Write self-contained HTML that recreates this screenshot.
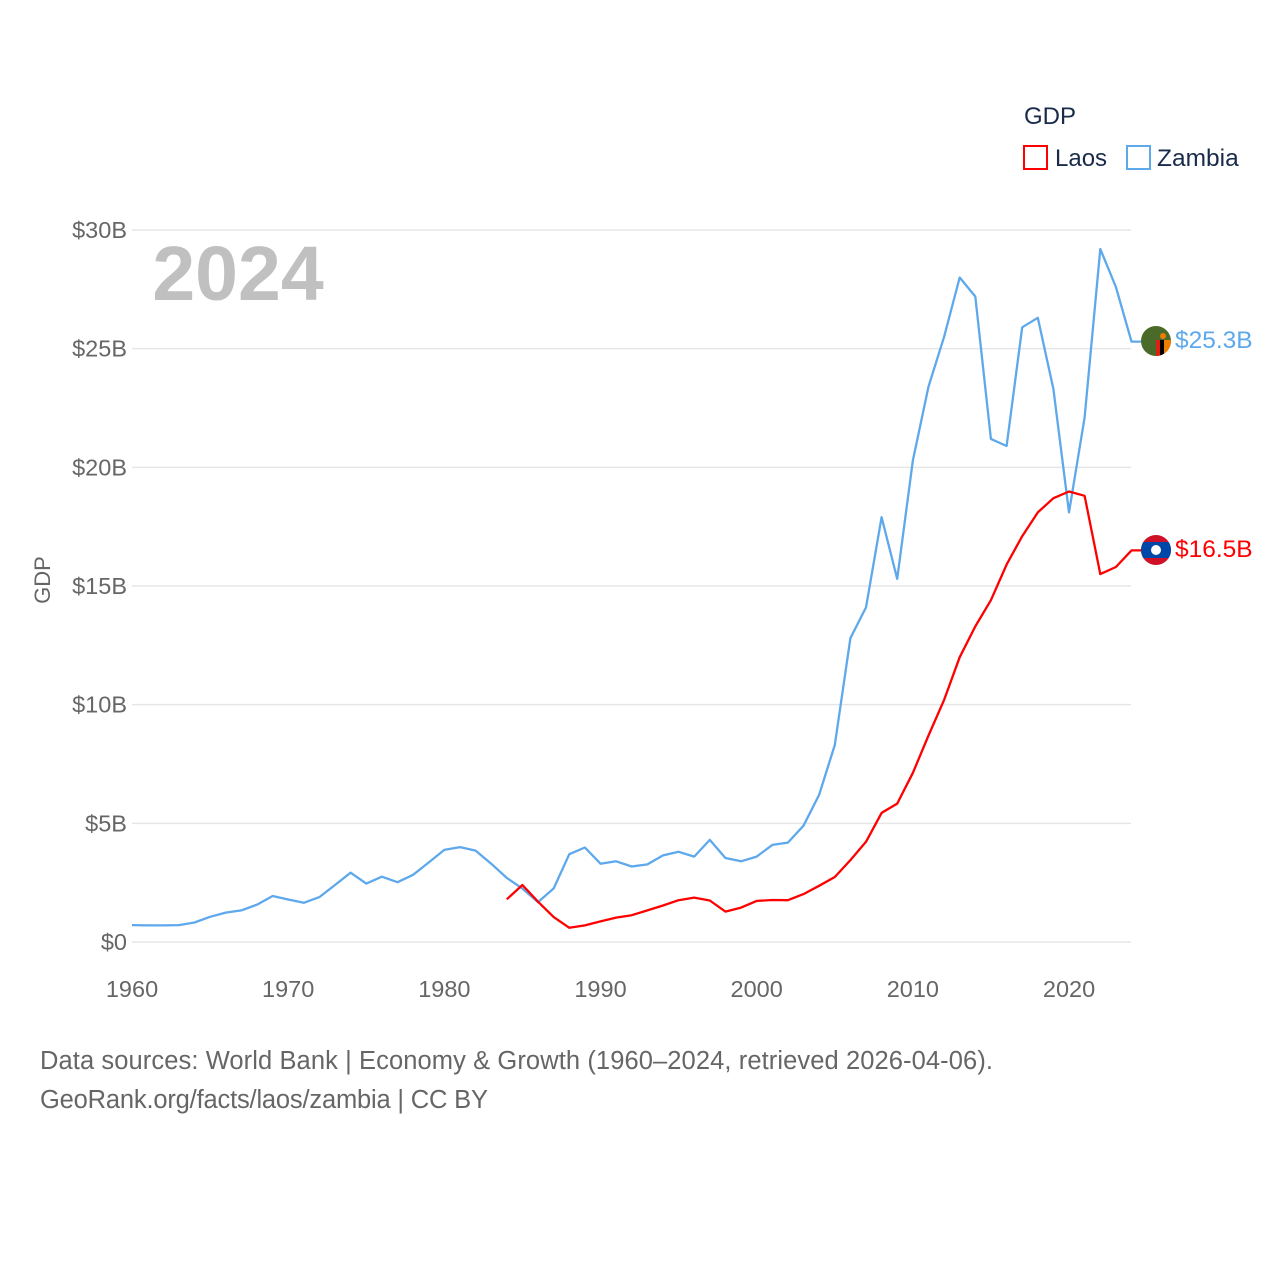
<!DOCTYPE html>
<html><head><meta charset="utf-8"><style>
body{margin:0;background:#fff;font-family:"Liberation Sans",sans-serif}
svg{display:block}
</style></head><body>
<svg id="chart" width="1280" height="1280" viewBox="0 0 1280 1280">
<g id="grid"></g>
<g id="yticks"></g>
<g id="xticks"></g>
<text x="238" y="300" font-size="77" font-weight="bold" fill="#c0c0c0" text-anchor="middle">2024</text>
<text transform="translate(50,580) rotate(-90)" font-size="22" fill="#666" text-anchor="middle">GDP</text>
<g id="series"></g>
<g>
<text x="1024" y="124" font-size="24" fill="#1a2a4a">GDP</text>
<g><rect x="1024" y="146" width="23" height="23" fill="none" stroke="#f00" stroke-width="2"/><text x="1055" y="166" font-size="24" fill="#1a2a4a">Laos</text></g>
<g><rect x="1127" y="146" width="23" height="23" fill="none" stroke="#5ea8ec" stroke-width="2"/><text x="1157" y="166" font-size="24.5" fill="#1a2a4a">Zambia</text></g>
</g>
<g>
<clipPath id="cz"><circle cx="1156" cy="341" r="15"/></clipPath>
<g clip-path="url(#cz)"><rect x="1140" y="325" width="32" height="32" fill="#4a6a2a"/><rect x="1156" y="340" width="4" height="18" fill="#de2010"/><rect x="1160" y="340" width="4" height="18" fill="#000"/><rect x="1164" y="340" width="8" height="18" fill="#ef7d00"/><circle cx="1163" cy="336" r="3" fill="#ef7d00"/></g>
</g>
<g>
<clipPath id="cl"><circle cx="1156" cy="550" r="15"/></clipPath>
<g clip-path="url(#cl)"><rect x="1140" y="534" width="32" height="32" fill="#ce1126"/><rect x="1140" y="542" width="32" height="16" fill="#0048a8"/><circle cx="1156" cy="550" r="5" fill="#fff"/></g>
</g>
<text x="1175" y="348" font-size="24.5" fill="#5ea8ec">$25.3B</text>
<text x="1175" y="557" font-size="24.5" fill="#f00">$16.5B</text>
<text x="40" y="1069" font-size="25.5" fill="#666" textLength="953">Data sources: World Bank | Economy &amp; Growth (1960–2024, retrieved 2026-04-06).</text>
<text x="40" y="1108" font-size="25.5" fill="#666" textLength="448">GeoRank.org/facts/laos/zambia | CC BY</text>
</svg>
<script>
const zambiaYears0 = 1960;
const zambiaValues = [0.71,0.70,0.70,0.71,0.82,1.06,1.24,1.33,1.57,1.94,1.79,1.65,1.89,2.4,2.92,2.46,2.75,2.52,2.83,3.35,3.88,4.0,3.85,3.3,2.7,2.25,1.68,2.26,3.7,3.98,3.3,3.4,3.18,3.27,3.65,3.8,3.6,4.3,3.54,3.4,3.6,4.09,4.19,4.9,6.2,8.3,12.8,14.1,17.9,15.3,20.3,23.4,25.5,28.0,27.2,21.2,20.9,25.9,26.3,23.3,18.1,22.1,29.2,27.6,25.3];
const laosYears0 = 1984;
const laosValues = [1.8,2.4,1.7,1.05,0.6,0.7,0.87,1.03,1.13,1.33,1.54,1.76,1.87,1.75,1.28,1.45,1.73,1.77,1.76,2.02,2.37,2.74,3.45,4.22,5.44,5.83,7.13,8.7,10.2,12.0,13.3,14.4,15.9,17.1,18.1,18.7,18.98,18.8,15.5,15.8,16.5];
const yTickValues = [0,5,10,15,20,25,30];
const yTickLabels = ["$0","$5B","$10B","$15B","$20B","$25B","$30B"];
const xTickYears = [1960,1970,1980,1990,2000,2010,2020];
const NS="http://www.w3.org/2000/svg";
const x = yr => 132 + (yr-1960)*15.617;
const y = v => 942 - v*23.733;
function mk(tag, attrs, parent){const e=document.createElementNS(NS,tag);for(const k in attrs)e.setAttribute(k,attrs[k]);parent.appendChild(e);return e;}
const grid=document.getElementById('grid'), yt=document.getElementById('yticks'), xt=document.getElementById('xticks'), ser=document.getElementById('series');
yTickValues.forEach((v,i)=>{
  const l=mk('line',{x1:132,x2:1131,y1:y(v),y2:y(v),stroke:'#e6e6e6','stroke-width':1.5},grid);
  
  
  const t=mk('text',{x:127,y:y(v)+8,'font-size':23.5,fill:'#666','text-anchor':'end'},yt);
  t.textContent=yTickLabels[i];
  
  
});
xTickYears.forEach(yr=>{
  const t=mk('text',{x:x(yr),y:997,'font-size':23.5,fill:'#666','text-anchor':'middle'},xt);
  t.textContent=yr;
  
  
});
function line(vals,y0,color,name){
  let pts=vals.map((v,i)=>x(y0+i).toFixed(1)+','+y(v).toFixed(1));
  pts.push('1141,'+y(vals[vals.length-1]).toFixed(1));
  const p=mk('polyline',{points:pts.join(' '),fill:'none',stroke:color,'stroke-width':2.3,'stroke-linejoin':'round'},ser);
  
  
}
line(zambiaValues,zambiaYears0,'#5ea8ec','zambia-line');
line(laosValues,laosYears0,'#f00','laos-line');
</script>
</body></html>
